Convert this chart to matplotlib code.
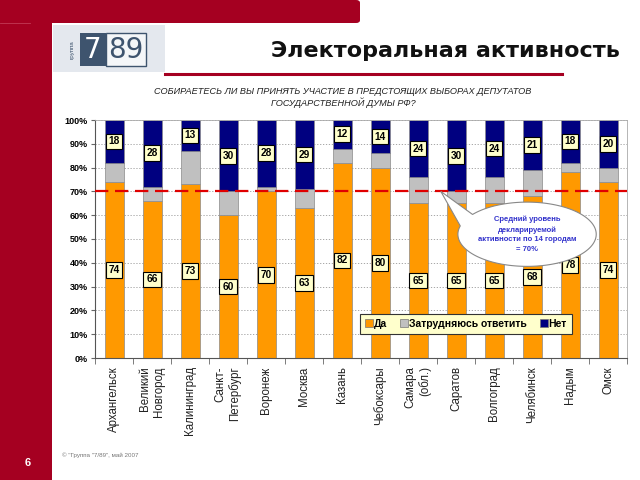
import matplotlib
matplotlib.use("Agg")
import matplotlib.pyplot as plt
import numpy as np
from matplotlib.patches import Rectangle, FancyBboxPatch, Polygon
from matplotlib.lines import Line2D

plt.rcParams['font.family'] = ['Liberation Sans', 'DejaVu Sans']

cities = ["Архангельск", "Великий\nНовгород", "Калининград", "Санкт-\nПетербург", "Воронеж",
          "Москва", "Казань", "Чебоксары", "Самара\n(обл.)", "Саратов", "Волгоград",
          "Челябинск", "Надым", "Омск"]
yes = [74, 66, 73, 60, 70, 63, 82, 80, 65, 65, 65, 68, 78, 74]
no = [18, 28, 13, 30, 28, 29, 12, 14, 24, 30, 24, 21, 18, 20]
unsure = [100 - a - b for a, b in zip(yes, no)]
series_names = ["Да", "Затрудняюсь ответить", "Нет"]
average = 70
yticks = list(range(0, 101, 10))

C_YES = "#FF9900"
C_UNS = "#C0C0C0"
C_NO = "#000080"
RED = "#A50021"

W, H = 640, 480
fig = plt.figure(figsize=(6.4, 4.8), dpi=100)
fig.patch.set_facecolor("white")

def fx(x):
    return x / W

def fy(y):
    return 1 - y / H

# background decorations
fig.patches.append(Rectangle((0, 0), fx(52), 1, transform=fig.transFigure, fc=RED, ec="none", zorder=0))
fig.patches.append(FancyBboxPatch((0, fy(23)), fx(360), fy(0) - fy(23),
                                  boxstyle="round,pad=0,rounding_size=0.006",
                                  transform=fig.transFigure, fc=RED, ec="none", zorder=0))
fig.add_artist(Line2D([0, fx(30)], [fy(23), fy(23)], transform=fig.transFigure, color="#c23a55", lw=0.6))

# logo
fig.patches.append(Rectangle((fx(53), fy(72)), fx(112), fy(25) - fy(72), transform=fig.transFigure,
                             fc="#e4e8ee", ec="none", zorder=1))
fig.patches.append(Rectangle((fx(80), fy(66)), fx(26), fy(33) - fy(66), transform=fig.transFigure,
                             fc="#3e546e", ec="none", zorder=2))
fig.patches.append(Rectangle((fx(106), fy(66)), fx(40), fy(33) - fy(66), transform=fig.transFigure,
                             fc="#f4f6f8", ec="#3e546e", lw=1.0, zorder=2))
fig.text(fx(93), fy(50), "7", color="white", fontsize=20, ha="center", va="center", zorder=3,
         family="DejaVu Sans")
fig.text(fx(126), fy(50), "89", color="#3e546e", fontsize=20, ha="center", va="center", zorder=3,
         family="DejaVu Sans")
fig.text(fx(72), fy(50), "группа", color="#3e546e", fontsize=4.5, rotation=90, ha="center", va="center", zorder=3)

# title
fig.text(fx(620), fy(51), "Электоральная активность", fontsize=16, fontweight="bold",
         ha="right", va="center", family="DejaVu Sans", color="#111111")
fig.add_artist(Line2D([fx(165), fx(562)], [fy(74), fy(74)], transform=fig.transFigure, color=RED, lw=2.2))
fig.text(fx(343), fy(91), "СОБИРАЕТЕСЬ ЛИ ВЫ ПРИНЯТЬ УЧАСТИЕ В ПРЕДСТОЯЩИХ ВЫБОРАХ ДЕПУТАТОВ",
         fontsize=6.6, style="italic", ha="center", va="center", color="#222222")
fig.text(fx(343), fy(103), "ГОСУДАРСТВЕННОЙ ДУМЫ РФ?",
         fontsize=6.6, style="italic", ha="center", va="center", color="#222222")

# footer
fig.text(fx(28), fy(463), "6", color="white", fontsize=8, fontweight="bold", ha="center", va="center")
fig.text(fx(62), fy(455), "© \"Группа \"7/89\", май 2007", color="#777777", fontsize=4.5,
         ha="left", va="center")

# chart
ax = fig.add_axes([fx(95), fy(358), fx(627) - fx(95), fy(120) - fy(358)])
x = np.arange(len(cities))
bw = 0.5
bottom_uns = np.array(yes)
bottom_no = np.array(yes) + np.array(unsure)
ax.bar(x, yes, bw, color=C_YES, edgecolor="#8a8a8a", lw=0.5, zorder=2, label=series_names[0])
ax.bar(x, unsure, bw, bottom=bottom_uns, color=C_UNS, edgecolor="#8a8a8a", lw=0.5, zorder=2,
       label=series_names[1])
ax.bar(x, no, bw, bottom=bottom_no, color=C_NO, edgecolor="#8a8a8a", lw=0.5, zorder=2,
       label=series_names[2])

box = dict(boxstyle="square,pad=0.28", fc="#FFFFCC", ec="black", lw=0.8)
for i in range(len(cities)):
    ax.text(x[i], yes[i] / 2, str(yes[i]), ha="center", va="center", fontsize=7.3,
            fontweight="bold", bbox=box, zorder=5)
    ax.text(x[i], bottom_no[i] + no[i] / 2, str(no[i]), ha="center", va="center", fontsize=7.3,
            fontweight="bold", bbox=box, zorder=5)

ax.axhline(average, color="#E00000", lw=1.6, ls=(0, (6, 3)), zorder=4)

ax.set_xlim(-0.5, len(cities) - 0.5)
ax.set_ylim(0, 100)
ax.set_yticks(yticks)
ax.set_yticklabels([f"{t}%" for t in yticks], fontsize=6.5, fontweight="bold")
ax.yaxis.grid(True, ls=(0, (1.5, 2)), color="#999999", lw=0.6, zorder=0)
ax.set_xticks(x)
ax.set_xticklabels(cities, rotation=90, fontsize=8.3, va="top", ha="center",
                   multialignment="right", color="#222222")
ax.set_xticks(np.arange(-0.5, len(cities), 1.0), minor=True)
ax.tick_params(axis="x", which="major", length=0, pad=6)
ax.tick_params(axis="x", which="minor", length=4, color="#666666")
ax.tick_params(axis="y", length=3, color="#666666", pad=2)
for s in ["top", "right"]:
    ax.spines[s].set_color("#aaaaaa")
    ax.spines[s].set_linewidth(0.6)
for s in ["left", "bottom"]:
    ax.spines[s].set_color("#555555")
    ax.spines[s].set_linewidth(0.8)

# legend
handles = [Line2D([], [], marker="s", ls="none", markersize=6, markerfacecolor=c,
                  markeredgecolor="#777777", markeredgewidth=0.5) for c in (C_YES, C_UNS, C_NO)]
leg = ax.legend(handles, series_names, ncol=3, loc="center", bbox_to_anchor=(0.697, 0.143),
                frameon=True, fancybox=False, prop={"weight": "bold", "size": 7.5},
                handletextpad=0.1, columnspacing=1.2, borderpad=0.45, handlelength=0.8)
leg.get_frame().set_facecolor("#FFFFCC")
leg.get_frame().set_edgecolor("#333333")
leg.get_frame().set_linewidth(0.8)
leg.get_frame().set_alpha(1)
leg.set_zorder(6)

# callout
cx, cy, a, b = 10.87, 52.0, 1.82, 13.5
tip = (8.6, average)
t = np.radians(np.linspace(165, 142 + 360, 200))
pts = np.column_stack([cx + a * np.cos(t), cy + b * np.sin(t)])
pts = np.vstack([pts, tip])
ax.add_patch(Polygon(pts, closed=True, fc="white", ec="#888888", lw=0.8, zorder=7))
ax.text(cx, cy, "Средний уровень\nдекларируемой\nактивности по 14 городам\n= 70%", ha="center",
        va="center", fontsize=5.5, fontweight="bold", color="#3333CC", zorder=8, linespacing=1.5)

fig.savefig("out.png", dpi=100)
